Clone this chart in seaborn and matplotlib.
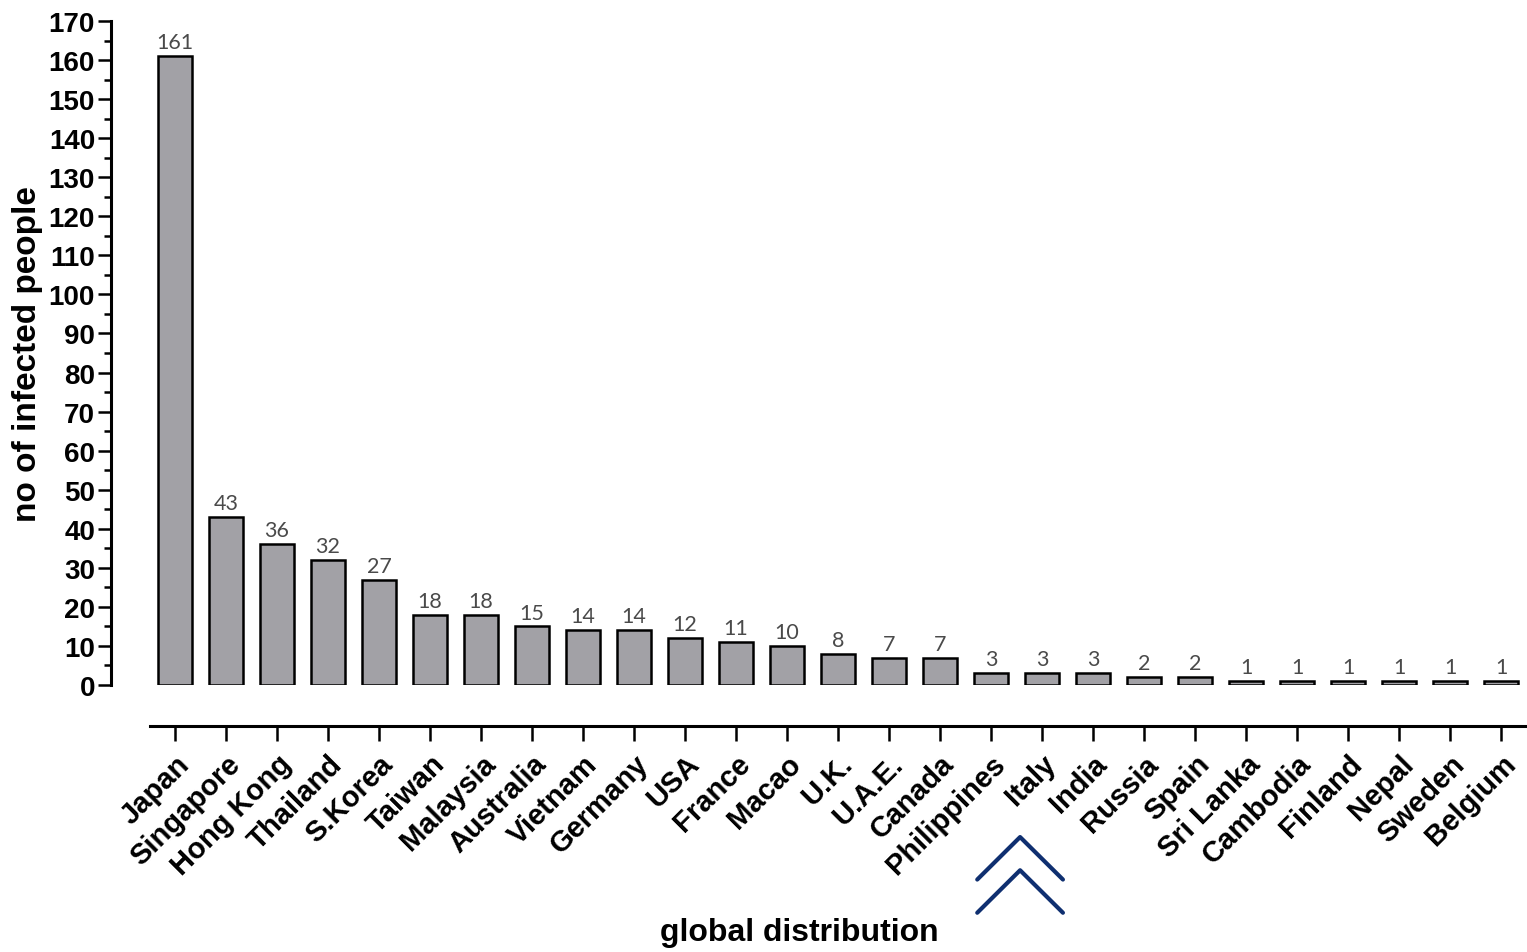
import numpy as np
import pandas as pd
import matplotlib.pyplot as plt
import seaborn as sns
from matplotlib.lines import Line2D
from matplotlib.transforms import blended_transform_factory

# Data
countries = ["Japan", "Singapore", "Hong Kong", "Thailand", "S.Korea", "Taiwan",
             "Malaysia", "Australia", "Vietnam", "Germany", "USA", "France", "Macao",
             "U.K.", "U.A.E.", "Canada", "Philippines", "Italy", "India", "Russia",
             "Spain", "Sri Lanka", "Cambodia", "Finland", "Nepal", "Sweden", "Belgium"]
infected = [161, 43, 36, 32, 27, 18, 18, 15, 14, 14, 12, 11, 10,
            8, 7, 7, 3, 3, 3, 2, 2, 1, 1, 1, 1, 1, 1]
highlight = "Italy"

df = pd.DataFrame({"country": countries, "infected": infected})

sns.set_style("ticks")
plt.rcParams["font.family"] = ["Liberation Sans", "DejaVu Sans"]
plt.rcParams["text.color"] = "black"
plt.rcParams["axes.labelcolor"] = "black"
plt.rcParams["xtick.color"] = "black"
plt.rcParams["ytick.color"] = "black"
plt.rcParams["axes.edgecolor"] = "black"

fig = plt.figure(figsize=(15.27, 9.53), dpi=100)
ax = fig.add_axes([111 / 1527, 1 - 686 / 953, 1414 / 1527, 664 / 953])

sns.barplot(data=df, x="country", y="infected", color="#a2a1a6", saturation=1,
            edgecolor="black", linewidth=1.8, width=0.68, ax=ax)

# value labels above bars
for i, v in enumerate(infected):
    ax.text(i, v + 1.0, str(v), ha="center", va="bottom", fontsize=15.5,
            family=["Lato", "DejaVu Sans"], color="#4a4a4a")

ax.set_xlim(-1.255, 26.47)
ax.set_ylim(0, 170)
ax.set_yticks(np.arange(0, 171, 10))
ax.set_yticks(np.arange(5, 170, 10), minor=True)

sns.despine(ax=ax)
ax.spines["left"].set_bounds(0, 170)
ax.spines["left"].set_linewidth(2.2)
ax.spines["bottom"].set_position(("outward", 29.5))
ax.spines["bottom"].set_bounds(-0.49, 26.47)
ax.spines["bottom"].set_linewidth(2.2)

ax.tick_params(axis="y", which="major", length=9.5, width=1.8, pad=2,
               labelsize=20, color="black", labelcolor="black")
ax.tick_params(axis="y", which="minor", length=5, width=1.8, color="black")
ax.tick_params(axis="x", which="major", length=10.8, width=1.8, pad=6,
               labelsize=21, color="black", labelcolor="black")
for lab in ax.get_yticklabels():
    lab.set_fontweight("bold")
ax.set_xticks(range(len(countries)))
ax.set_xticklabels(countries, rotation=45, ha="right", va="top",
                   rotation_mode="anchor", fontweight="bold")

ax.set_xlabel("global distribution", fontsize=23, fontweight="bold")
ax.xaxis.set_label_coords(0.487, -0.35)
ax.set_ylabel("no of infected people", fontsize=24, fontweight="bold")
ax.yaxis.set_label_coords(-0.048, 0.5)

# double chevron pointing at the highlighted country
trans = blended_transform_factory(ax.transData, ax.transAxes)
xi = countries.index(highlight) - 0.43
for top in (-0.229, -0.279):
    ax.add_line(Line2D([xi - 0.84, xi, xi + 0.84], [top - 0.064, top, top - 0.064],
                       transform=trans, color="#0f2f70", linewidth=3, clip_on=False))

fig.savefig("out.png", dpi=100)
